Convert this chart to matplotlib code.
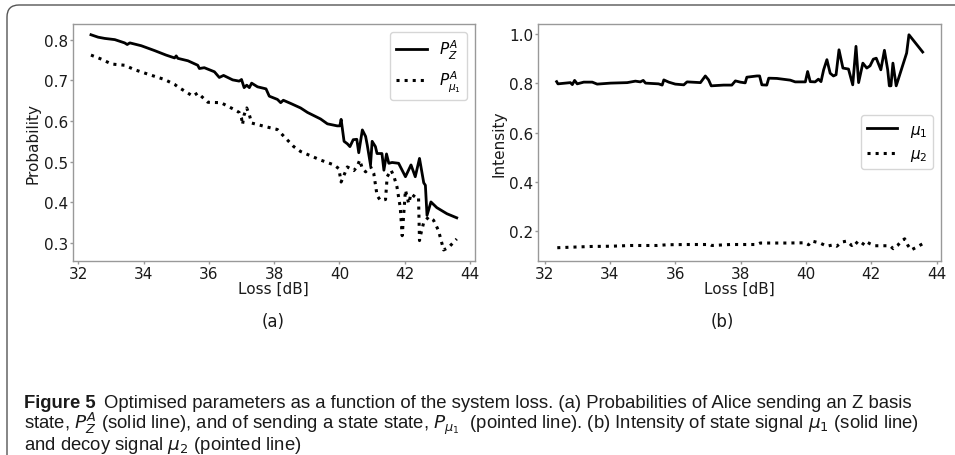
import matplotlib
matplotlib.use("Agg")
import matplotlib.pyplot as plt
from matplotlib.patches import FancyBboxPatch
from matplotlib.transforms import IdentityTransform

# panel (a): probabilities vs loss
loss_pz = [32.39, 32.61, 32.81, 33.12, 33.42, 33.50, 33.58, 33.93, 34.34, 34.69,
           34.95, 35.00, 35.05, 35.36, 35.66, 35.71, 35.86, 36.17, 36.32, 36.45,
           36.73, 36.93, 37.00, 37.08, 37.16, 37.24, 37.31, 37.49, 37.75, 37.85,
           38.10, 38.20, 38.28, 38.51, 38.81, 39.02, 39.42, 39.63, 39.93, 40.01,
           40.05, 40.14, 40.24, 40.32, 40.42, 40.53, 40.59, 40.70, 40.80, 40.85,
           40.95, 41.00, 41.10, 41.15, 41.30, 41.36, 41.44, 41.51, 41.61, 41.81,
           42.02, 42.19, 42.32, 42.45, 42.58, 42.63, 42.68, 42.80, 42.98, 43.29,
           43.59]
p_z = [0.812, 0.806, 0.803, 0.800, 0.792, 0.788, 0.792, 0.785, 0.773, 0.762,
       0.755, 0.760, 0.754, 0.748, 0.737, 0.729, 0.731, 0.721, 0.707, 0.712,
       0.701, 0.698, 0.702, 0.682, 0.688, 0.682, 0.693, 0.684, 0.679, 0.661,
       0.653, 0.645, 0.651, 0.643, 0.632, 0.621, 0.605, 0.593, 0.588, 0.588,
       0.604, 0.550, 0.544, 0.537, 0.554, 0.555, 0.522, 0.578, 0.562, 0.541,
       0.492, 0.550, 0.537, 0.520, 0.520, 0.479, 0.519, 0.496, 0.498, 0.496,
       0.463, 0.492, 0.463, 0.508, 0.448, 0.442, 0.368, 0.401, 0.387, 0.372,
       0.362]

loss_pmu = [32.39, 32.71, 33.02, 33.42, 33.73, 34.14, 34.64, 34.95, 35.05, 35.25,
            35.51, 35.66, 35.97, 36.37, 36.78, 36.93, 37.00, 37.03, 37.08, 37.16,
            37.24, 37.31, 37.69, 38.10, 38.30, 38.60, 38.81, 39.42, 39.83, 39.98,
            40.05, 40.16, 40.24, 40.44, 40.54, 40.62, 40.70, 40.80, 40.95, 41.05,
            41.15, 41.25, 41.41, 41.46, 41.58, 41.67, 41.76, 41.86, 41.92, 42.02,
            42.12, 42.19, 42.32, 42.42, 42.45, 42.49, 42.58, 42.73, 42.88, 43.03,
            43.19, 43.34, 43.59]
p_mu1 = [0.762, 0.752, 0.740, 0.737, 0.726, 0.715, 0.702, 0.690, 0.684, 0.674,
         0.661, 0.669, 0.646, 0.645, 0.628, 0.621, 0.607, 0.591, 0.615, 0.632,
         0.615, 0.595, 0.587, 0.579, 0.562, 0.537, 0.525, 0.504, 0.492, 0.483,
         0.450, 0.471, 0.487, 0.478, 0.488, 0.504, 0.483, 0.475, 0.488, 0.471,
         0.417, 0.405, 0.407, 0.463, 0.479, 0.463, 0.438, 0.388, 0.318, 0.430,
         0.397, 0.421, 0.413, 0.413, 0.306, 0.322, 0.351, 0.364, 0.356, 0.331,
         0.283, 0.289, 0.310]

# panel (b): intensities vs loss
loss_mu1 = [32.37, 32.41, 32.79, 32.85, 32.92, 33.00, 33.20, 33.46, 33.61, 34.02,
            34.53, 34.78, 34.93, 35.02, 35.09, 35.49, 35.60, 35.65, 35.80, 36.00,
            36.26, 36.36, 36.77, 36.92, 37.02, 37.10, 37.48, 37.73, 37.84, 37.99,
            38.14, 38.19, 38.50, 38.58, 38.65, 38.80, 38.86, 39.11, 39.52, 39.67,
            39.98, 40.05, 40.13, 40.28, 40.38, 40.46, 40.54, 40.64, 40.74, 40.84,
            40.92, 41.01, 41.13, 41.30, 41.43, 41.53, 41.61, 41.74, 41.86, 41.96,
            42.06, 42.15, 42.29, 42.40, 42.50, 42.55, 42.60, 42.66, 42.76, 43.08,
            43.15, 43.57]
mu1 = [0.807, 0.798, 0.803, 0.795, 0.812, 0.798, 0.805, 0.805, 0.797, 0.801,
       0.803, 0.809, 0.806, 0.812, 0.801, 0.798, 0.793, 0.814, 0.805, 0.797,
       0.794, 0.806, 0.803, 0.830, 0.814, 0.790, 0.793, 0.793, 0.810, 0.805,
       0.802, 0.825, 0.830, 0.830, 0.794, 0.793, 0.821, 0.820, 0.813, 0.806,
       0.806, 0.848, 0.807, 0.806, 0.817, 0.807, 0.855, 0.896, 0.841, 0.830,
       0.835, 0.936, 0.862, 0.858, 0.794, 0.950, 0.803, 0.882, 0.862, 0.871,
       0.898, 0.902, 0.855, 0.934, 0.855, 0.790, 0.790, 0.882, 0.790, 0.923,
       0.997, 0.927]

loss_mu2 = [32.39, 32.79, 33.41, 34.02, 34.63, 35.44, 35.75, 36.36, 37.07, 37.12,
            37.68, 38.50, 38.60, 39.42, 39.98, 40.08, 40.18, 40.43, 40.64, 40.84,
            40.94, 41.10, 41.25, 41.40, 41.51, 41.61, 41.71, 41.81, 41.96, 42.11,
            42.57, 42.67, 42.80, 42.92, 43.02, 43.12, 43.22, 43.38, 43.57]
mu2 = [0.134, 0.136, 0.139, 0.140, 0.143, 0.143, 0.146, 0.147, 0.147, 0.143,
       0.147, 0.147, 0.153, 0.153, 0.154, 0.146, 0.161, 0.153, 0.140, 0.146,
       0.140, 0.157, 0.161, 0.143, 0.159, 0.147, 0.143, 0.161, 0.150, 0.142,
       0.142, 0.130, 0.143, 0.161, 0.170, 0.143, 0.125, 0.136, 0.150]

x_ticks = [32, 34, 36, 38, 40, 42, 44]


def style_axes(ax):
    for s in ax.spines.values():
        s.set_color("#999999")
        s.set_linewidth(1.0)
    ax.tick_params(colors="#999999", labelcolor="#1a1a1a", labelsize=11,
                   length=2.5, width=1.0, pad=1)
    ax.set_xticks(x_ticks)
    ax.set_xlabel("Loss [dB]", fontsize=11, color="#1a1a1a", labelpad=0)


def main():
    plt.rcParams["font.family"] = ["DejaVu Sans"]
    fig = plt.figure(figsize=(9.55, 4.56), dpi=100)

    ax1 = fig.add_axes([0.0761, 0.4261, 0.4213, 0.5191])
    ax1.plot(loss_pz, p_z, color="black", lw=2.0, label=r"$P_Z^A$")
    ax1.plot(loss_pmu, p_mu1, color="black", lw=2.2, ls=":", label=r"$P_{\mu_1}^A$")
    style_axes(ax1)
    ax1.set_yticks([0.3, 0.4, 0.5, 0.6, 0.7, 0.8])
    ax1.set_ylabel("Probability", fontsize=11, color="#1a1a1a", labelpad=2)
    ax1.legend(loc="upper right", fontsize=11, handlelength=2.0,
               borderaxespad=0.5)

    ax2 = fig.add_axes([0.5637, 0.4261, 0.4216, 0.5191])
    ax2.plot(loss_mu1, mu1, color="black", lw=2.0, label=r"$\mu_1$")
    ax2.plot(loss_mu2, mu2, color="black", lw=2.2, ls=":", label=r"$\mu_2$")
    style_axes(ax2)
    ax2.set_yticks([0.2, 0.4, 0.6, 0.8, 1.0])
    ax2.set_ylabel("Intensity", fontsize=11, color="#1a1a1a", labelpad=2)
    ax2.legend(loc="center right", fontsize=11, handlelength=2.0,
               borderaxespad=0.5)

    fig.text(273 / 955, 1 - 322 / 456, "(a)", fontsize=12, ha="center",
             va="center", color="#1a1a1a")
    fig.text(722 / 955, 1 - 322 / 456, "(b)", fontsize=12, ha="center",
             va="center", color="#1a1a1a")

    # caption frame (cut by the right and bottom edges)
    frame = FancyBboxPatch((7, -30), 1000, 456 - 6 + 30,
                           boxstyle="round,pad=0,rounding_size=12",
                           transform=IdentityTransform(), facecolor="none",
                           edgecolor="#555555", lw=1.0)
    fig.add_artist(frame)

    cap_font = ["Liberation Sans Narrow", "Liberation Sans", "DejaVu Sans"]
    cap_size = 13.3
    x0 = 24 / 955
    t1 = fig.text(x0, 1 - 408 / 456, "Figure 5", fontsize=cap_size,
                  fontweight="bold", family=cap_font, va="baseline",
                  color="#1a1a1a")
    fig.canvas.draw()
    bb = t1.get_window_extent()
    fig.text((bb.x1 + 8) / 955, 1 - 408 / 456,
             "Optimised parameters as a function of the system loss. (a) "
             "Probabilities of Alice sending an Z basis",
             fontsize=cap_size, family=cap_font, va="baseline", color="#1a1a1a")
    fig.text(x0, 1 - 429.5 / 456,
             r"state, $P_Z^A$ (solid line), and of sending a state state, "
             r"$P_{\mu_1}$  (pointed line). (b) Intensity of state signal "
             r"$\mu_1$ (solid line)",
             fontsize=cap_size, family=cap_font, va="baseline", color="#1a1a1a")
    fig.text(x0, 1 - 450.5 / 456,
             r"and decoy signal $\mu_2$ (pointed line)",
             fontsize=cap_size, family=cap_font, va="baseline", color="#1a1a1a")

    fig.savefig("out.png", dpi=100)


if __name__ == '__main__':
    main()
